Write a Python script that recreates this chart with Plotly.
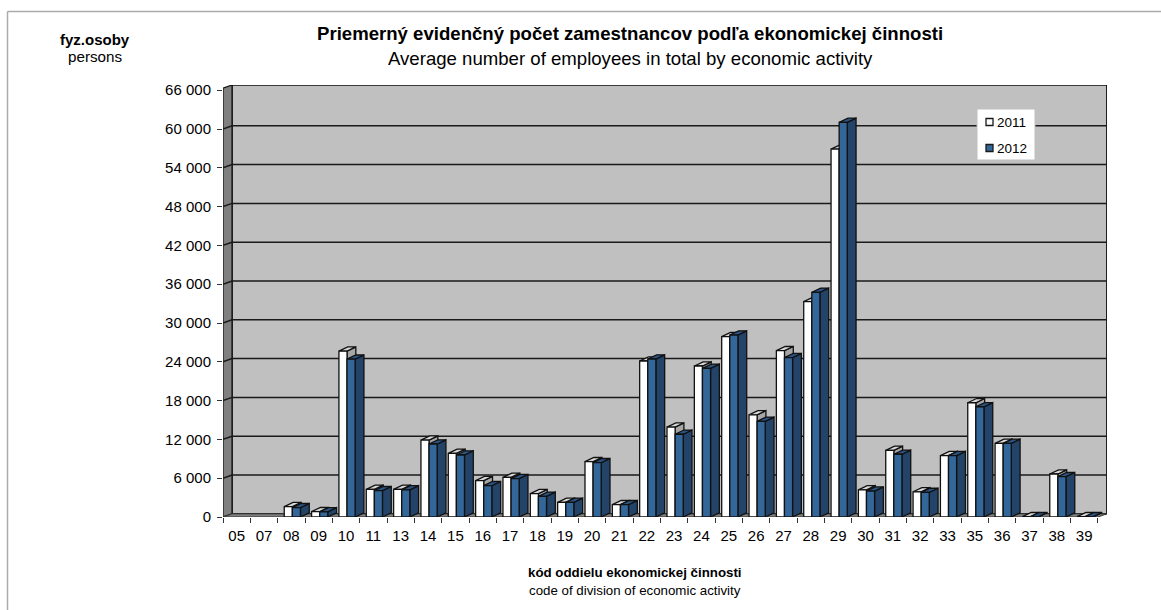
import plotly.graph_objects as go

# kód oddielu a hodnoty odčítané z grafu
kody = ["05", "07", "08", "09", "10", "11", "13", "14", "15", "16", "17", "18", "19", "20", "21", "22",
        "23", "24", "25", "26", "27", "28", "29", "30", "31", "32", "33", "35", "36", "37", "38", "39"]
rok_2011 = [0, 0, 1600, 820, 25650, 4280, 4280, 11900, 9840, 5620, 6130, 3610, 2270, 8550, 1900, 24120,
            13900, 23350, 27880, 15800, 25720, 33300, 56900, 4200, 10300, 3900, 9500, 17670, 11390, 50, 6650, 50]
rok_2012 = [0, 0, 1440, 800, 24400, 4070, 4200, 11290, 9590, 4840, 5930, 3200, 2270, 8400, 1900, 24430,
            12800, 22990, 28140, 14800, 24640, 34750, 61030, 4000, 9700, 3800, 9500, 17050, 11390, 50, 6230, 50]
y_ticks = [0, 6000, 12000, 18000, 24000, 30000, 36000, 42000, 48000, 54000, 60000, 66000]

W, H = 1161, 610
LEFT, RIGHT, TOP, BOTTOM = 223, 1107, 85, 517
PX_X = 27.34
PX_Y = 38.8 / 6000

x_min = -0.5
x_max = x_min + (RIGHT - LEFT) / PX_X
y_max = (BOTTOM - TOP) / PX_Y

wall_dx = 9 / PX_X
wall_dy = 3.2 / PX_Y
bar_w = 8.1 / PX_X
bar_shift = 1.0 / PX_X
bar_dx = 8.8 / PX_X
bar_dy = 4.2 / PX_Y
x_end = x_min + len(kody)

LINE = "#111111"


def poly(fig, xs, ys, fill, line=LINE, width=1.3):
    fig.add_trace(go.Scatter(x=xs, y=ys, mode="lines", fill="toself", fillcolor=fill,
                             line=dict(color=line, width=width), hoverinfo="skip", showlegend=False,
                             cliponaxis=False))


def faces(x0, v):
    x1 = x0 + bar_w
    front = ([x0, x1, x1, x0, x0], [0, 0, v, v, 0])
    top = ([x0, x1, x1 + bar_dx, x0 + bar_dx, x0], [v, v, v + bar_dy, v + bar_dy, v])
    side = ([x1, x1 + bar_dx, x1 + bar_dx, x1, x1], [0, bar_dy, v + bar_dy, v, 0])
    return front, top, side


fig = go.Figure()

# zadná stena, bočná stena, podlaha
poly(fig, [x_min + wall_dx, x_end + wall_dx, x_end + wall_dx, x_min + wall_dx, x_min + wall_dx],
     [wall_dy, wall_dy, y_max, y_max, wall_dy], "#C0C0C0", width=1.6)
poly(fig, [x_min, x_min + wall_dx, x_min + wall_dx, x_min, x_min],
     [0, wall_dy, y_max, y_max - wall_dy, 0], "#808080", width=1.2)
poly(fig, [x_min, x_end, x_end + wall_dx, x_min + wall_dx, x_min],
     [0, 0, wall_dy, wall_dy, 0], "#808080", line="#333333", width=1.0)

# mriežka na stenách
grid_x, grid_y = [], []
for t in y_ticks[1:-1]:
    grid_x += [x_min, x_min + wall_dx, x_end + wall_dx, None]
    grid_y += [t, t + wall_dy, t + wall_dy, None]
fig.add_trace(go.Scatter(x=grid_x, y=grid_y, mode="lines", line=dict(color="#1a1a1a", width=1.5),
                         hoverinfo="skip", showlegend=False))

# stĺpce - každý kód zvlášť, aby sa prekrývali správne
for i in range(len(kody)):
    for values, shift, cols in [
        (rok_2011, -bar_w, ("#FFFFFF", "#D9D9D9", "#A6A6A6")),
        (rok_2012, 0, ("#336699", "#2A5585", "#234468")),
    ]:
        if values[i] == 0:
            continue
        front, top, side = faces(i + shift + bar_shift, values[i])
        poly(fig, *side, cols[2])
        poly(fig, *top, cols[1])
        poly(fig, *front, cols[0])

# legenda
LEG_L, LEG_R, LEG_T, LEG_B = 977, 1035, 109, 160


# pixely obrázka -> paper súradnice (paper = oblasť grafu)
def px(x):
    return (x - LEFT) / (RIGHT - LEFT)


def py(y):
    return (BOTTOM - y) / (BOTTOM - TOP)


fig.add_shape(type="rect", xref="paper", yref="paper", x0=px(LEG_L), x1=px(LEG_R), y0=py(LEG_B), y1=py(LEG_T),
              fillcolor="white", line=dict(color="#BFBFBF", width=1), layer="above")
for name, col, yc in [("2011", "#FFFFFF", 122), ("2012", "#336699", 148)]:
    fig.add_shape(type="rect", xref="paper", yref="paper", x0=px(986), x1=px(993), y0=py(yc + 3.5), y1=py(yc - 3.5),
                  fillcolor=col, line=dict(color="#1a1a1a", width=1.3), layer="above")
    fig.add_annotation(xref="paper", yref="paper", x=px(995), y=py(yc), text=name, showarrow=False,
                       xanchor="left", yanchor="middle", font=dict(size=13.5, color="#000000"))

# okraj vľavo a hore
fig.add_shape(type="line", xref="paper", yref="paper", x0=px(7.5), x1=px(W), y0=py(11.5), y1=py(11.5),
              line=dict(color="#ABABAB", width=1.5))
fig.add_shape(type="line", xref="paper", yref="paper", x0=px(7.5), x1=px(7.5), y0=py(H), y1=py(11.5),
              line=dict(color="#ABABAB", width=1.5))

# texty
texts = [
    ("Priemerný evidenčný počet zamestnancov podľa ekonomickej činnosti", 630, 34, 18.6, True),
    ("Average number of employees in total by economic activity", 630, 58, 18.6, False),
    ("fyz.osoby", 95, 39, 15, True),
    ("persons", 95, 56, 15.2, False),
    ("kód oddielu ekonomickej činnosti", 635, 572, 13.3, True),
    ("code of division of economic activity", 635, 590, 13.3, False),
]
for text, xc, yc, size, bold in texts:
    fig.add_annotation(xref="paper", yref="paper", x=px(xc), y=py(yc), showarrow=False,
                       text=f"<b>{text}</b>" if bold else text, xanchor="center", yanchor="middle",
                       font=dict(size=size, color="#000000"))

fig.update_layout(
    width=W, height=H, autosize=False,
    margin=dict(l=LEFT, r=W - RIGHT, t=TOP, b=H - BOTTOM),
    paper_bgcolor="white", plot_bgcolor="white",
    font=dict(family="Liberation Sans, Arial, sans-serif", color="#000000"),
    showlegend=False,
    xaxis=dict(range=[x_min, x_max], tickmode="array", tickvals=list(range(len(kody))), ticktext=kody,
               ticks="", showgrid=False, zeroline=False, showline=False, tickfont=dict(size=15),
               ticklabelstandoff=8,
               minor=dict(tickmode="array", tickvals=[i - 0.5 for i in range(len(kody) + 1)],
                          ticks="outside", ticklen=5, tickcolor="#333333", tickwidth=1, showgrid=False)),
    yaxis=dict(range=[0, y_max], tickmode="array", tickvals=y_ticks,
               ticktext=[f"{t:,}".replace(",", " ") for t in y_ticks],
               ticks="outside", ticklen=5, tickcolor="#333333", tickwidth=1, showgrid=False, zeroline=False,
               showline=False, tickfont=dict(size=15), ticklabelstandoff=3),
)

fig.write_html("out.html", post_script="document.body.style.margin='0';", config=dict(displayModeBar=False))
